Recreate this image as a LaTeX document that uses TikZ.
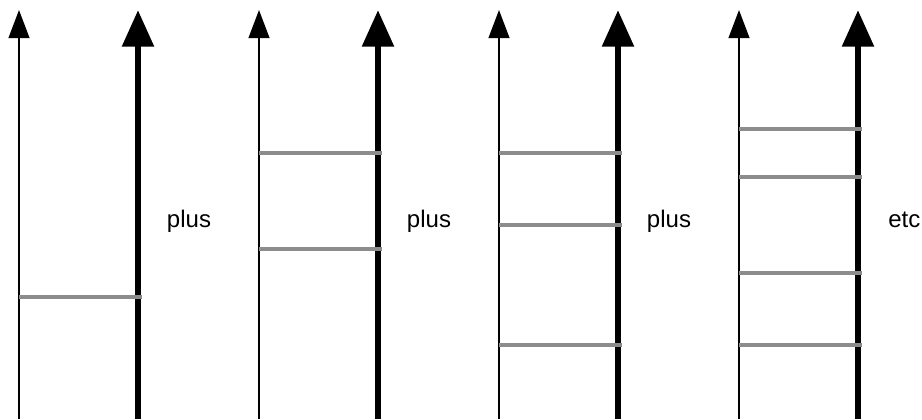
\documentclass[tikz,border=0pt]{standalone}
\usepackage{fontspec}
\setmainfont{Liberation Sans}
\usetikzlibrary{arrows.meta}
\begin{document}
\begin{tikzpicture}[x=0.75pt,y=-0.75pt,
  thinarrow/.style={line width=1.5pt,-{Triangle[length=21pt,width=15.5pt]}},
  thickarrow/.style={line width=5pt,-{Triangle[length=27.5pt,width=23pt]}},
  rung/.style={line width=3pt,draw=black!45},
  lbl/.style={font=\fontsize{18}{21}\selectfont,inner sep=0pt}]
\useasboundingbox (0,0) rectangle (922,419);
% group 1
\coordinate (a1b) at (19,419); \coordinate (a1t) at (19,10);
\coordinate (b1b) at (138,419); \coordinate (b1t) at (138,10);
% group 2
\coordinate (a2b) at (259,419); \coordinate (a2t) at (259,10);
\coordinate (b2b) at (378,419); \coordinate (b2t) at (378,10);
% group 3
\coordinate (a3b) at (499,419); \coordinate (a3t) at (499,10);
\coordinate (b3b) at (618,419); \coordinate (b3t) at (618,10);
% group 4
\coordinate (a4b) at (739,419); \coordinate (a4t) at (739,10);
\coordinate (b4b) at (858,419); \coordinate (b4t) at (858,10);
% arrows
\foreach \i in {1,2,3,4}{
  \draw[thinarrow] (a\i b) -- (a\i t);
  \draw[thickarrow] (b\i b) -- (b\i t);
}
% rungs
\draw[rung] (19,297) -- (142,297);
\draw[rung] (259,153) -- (382,153);
\draw[rung] (259,249) -- (382,249);
\draw[rung] (499,153) -- (622,153);
\draw[rung] (499,225) -- (622,225);
\draw[rung] (499,345) -- (622,345);
\draw[rung] (739,129) -- (862,129);
\draw[rung] (739,177) -- (862,177);
\draw[rung] (739,273) -- (862,273);
\draw[rung] (739,345) -- (862,345);
% labels
\node[lbl,anchor=base] (p1) at (189,227) {plus};
\node[lbl,anchor=base] (p2) at (429,227) {plus};
\node[lbl,anchor=base] (p3) at (669,227) {plus};
\node[lbl,anchor=base west] (p4) at (888,227) {etc};
\end{tikzpicture}
\end{document}
